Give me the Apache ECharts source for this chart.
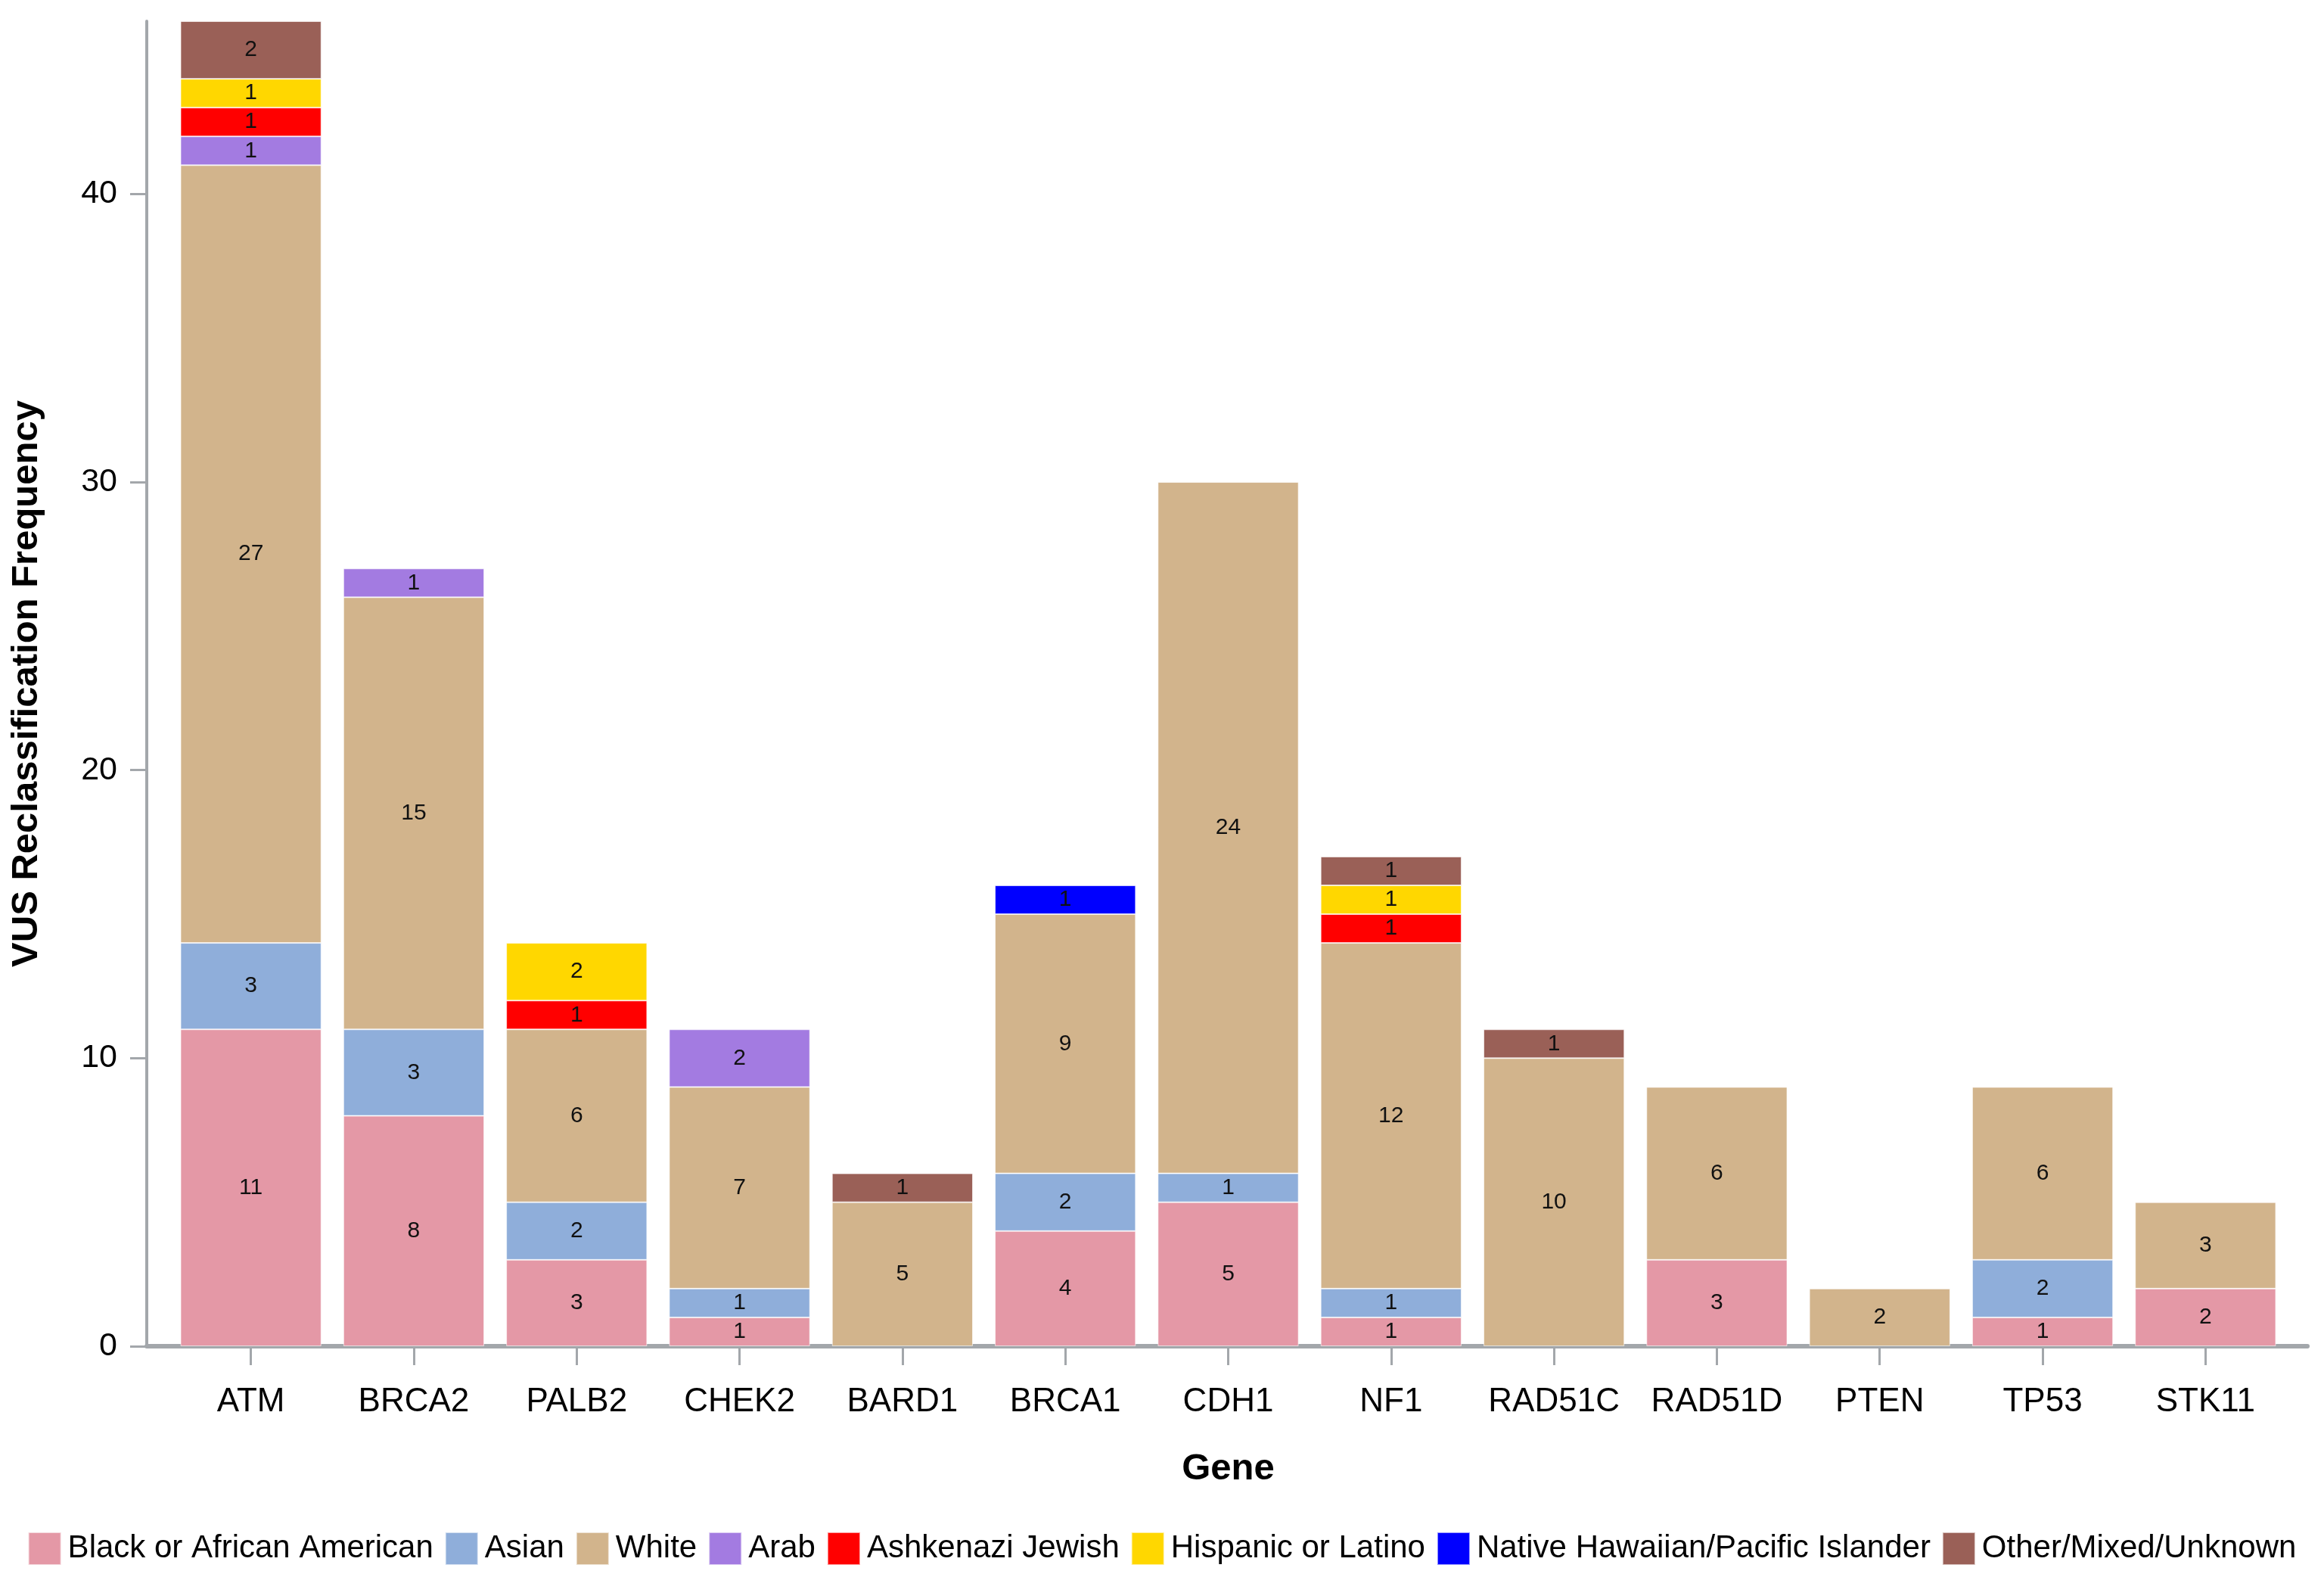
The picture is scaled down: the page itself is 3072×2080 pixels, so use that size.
<!DOCTYPE html>
<html>
<head>
<meta charset="utf-8">
<script src="https://cdn.jsdelivr.net/npm/echarts@6/dist/echarts.min.js"></script>
<style>
  html, body { margin: 0; padding: 0; background: #fff; }
  #chart { width: 3072px; height: 2080px; }
</style>
</head>
<body>
<div id="chart"></div>
<script>
const genes = ['ATM', 'BRCA2', 'PALB2', 'CHEK2', 'BARD1', 'BRCA1', 'CDH1', 'NF1', 'RAD51C', 'RAD51D', 'PTEN', 'TP53', 'STK11']

// counts per gene, null where the group has no segment
const black    = [11, 8, 3, 1, null, 4, 5, 1, null, 3, null, 1, 2]
const asian    = [3, 3, 2, 1, null, 2, 1, 1, null, null, null, 2, null]
const white    = [27, 15, 6, 7, 5, 9, 24, 12, 10, 6, 2, 6, 3]
const arab     = [1, 1, null, 2, null, null, null, null, null, null, null, null, null]
const ashkenazi = [1, null, 1, null, null, null, null, 1, null, null, null, null, null]
const hispanic = [1, null, 2, null, null, null, null, 1, null, null, null, null, null]
const hawaiian = [null, null, null, null, null, 1, null, null, null, null, null, null, null]
const other    = [2, null, null, null, 1, null, null, 1, 1, null, null, null, null]

const yTicks = [0, 10, 20, 30, 40]

const groups = [
  { name: 'Black or African American', data: black, color: '#E498A6' },
  { name: 'Asian', data: asian, color: '#8FAEDA' },
  { name: 'White', data: white, color: '#D2B48C' },
  { name: 'Arab', data: arab, color: '#A37BE1' },
  { name: 'Ashkenazi Jewish', data: ashkenazi, color: '#FF0000' },
  { name: 'Hispanic or Latino', data: hispanic, color: '#FFD700' },
  { name: 'Native Hawaiian/Pacific Islander', data: hawaiian, color: '#0000FF' },
  { name: 'Other/Mixed/Unknown', data: other, color: '#9A6057' }
]

const font = 'Liberation Sans, Arial, sans-serif'
const axisGray = '#A3A7AB'

const chart = echarts.init(document.getElementById('chart'))

chart.setOption({
  backgroundColor: '#fff',
  animation: false,
  textStyle: { fontFamily: font },
  grid: [
    { left: 224, right: 49, top: 28, bottom: 301 },
    // wider grid only used to draw the long baseline
    { left: 194, right: 22, top: 28, bottom: 301 }
  ],
  legend: {
    left: 'center',
    bottom: 6,
    itemWidth: 43,
    itemHeight: 43,
    itemGap: 15,
    icon: 'rect',
    textStyle: { fontSize: 42, color: '#000', fontFamily: font, padding: [0, 0, 0, 4] },
    data: groups.map(g => g.name)
  },
  xAxis: [
    {
      type: 'category',
      data: genes,
      gridIndex: 0,
      name: 'Gene',
      nameLocation: 'middle',
      nameGap: 138,
      nameTextStyle: { fontSize: 49, fontWeight: 'bold', color: '#000', fontFamily: font },
      axisLine: { show: false },
      axisTick: { show: true, alignWithLabel: true, length: 25, lineStyle: { color: axisGray, width: 3 } },
      axisLabel: { interval: 0, fontSize: 44, color: '#000', margin: 52, fontFamily: font }
    },
    {
      type: 'value',
      gridIndex: 1,
      min: 0,
      max: 1,
      axisLine: { show: true, lineStyle: { color: axisGray, width: 6 } },
      axisTick: { show: false },
      axisLabel: { show: false },
      splitLine: { show: false }
    }
  ],
  yAxis: [
    {
      type: 'value',
      gridIndex: 0,
      min: yTicks[0],
      max: 46,
      interval: 10,
      offset: 30,
      name: 'VUS Reclassification Frequency',
      nameLocation: 'middle',
      nameGap: 134,
      nameTextStyle: { fontSize: 49, fontWeight: 'bold', color: '#000', fontFamily: font },
      axisLine: { show: true, lineStyle: { color: axisGray, width: 4 } },
      axisTick: { show: true, length: 22, lineStyle: { color: axisGray, width: 3 } },
      axisLabel: {
        fontSize: 43, color: '#000', margin: 39, fontFamily: font,
        showMaxLabel: false,
        formatter: v => (yTicks.includes(v) ? String(v) : '')
      },
      splitLine: { show: false }
    },
    { type: 'value', gridIndex: 1, show: false }
  ],
  series: groups.map(g => ({
    name: g.name,
    type: 'bar',
    stack: 'total',
    xAxisIndex: 0,
    yAxisIndex: 0,
    barCategoryGap: '13.5%',
    data: g.data,
    itemStyle: { color: g.color, borderColor: 'rgba(255,255,255,0.6)', borderWidth: 1 },
    label: {
      show: true,
      position: 'inside',
      fontSize: 30,
      color: '#111',
      fontFamily: font,
      formatter: p => (p.value == null ? '' : String(p.value))
    },
    emphasis: { disabled: true }
  }))
})
</script>
</body>
</html>
